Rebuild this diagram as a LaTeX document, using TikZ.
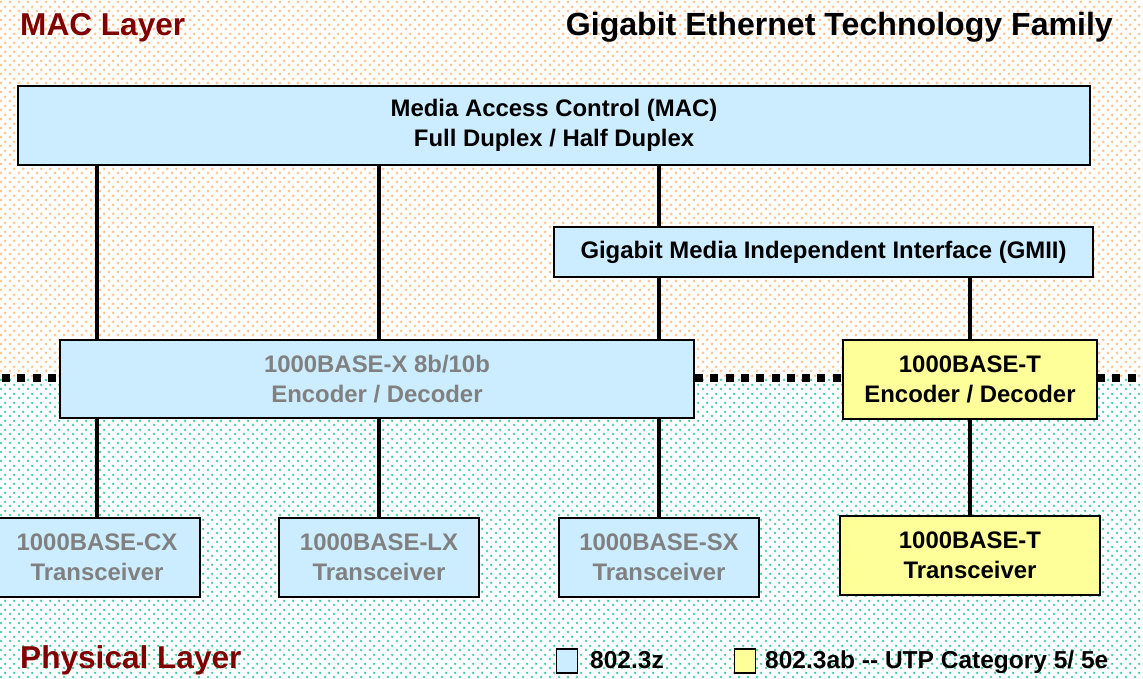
\documentclass[tikz,border=0pt]{standalone}
\usepackage{fontspec}
\setmainfont{Liberation Sans}
\usetikzlibrary{patterns}

\definecolor{macblue}{HTML}{CCECFF}
\definecolor{abyellow}{HTML}{FFFF99}
\definecolor{layerred}{HTML}{800000}
\definecolor{dimtext}{HTML}{808080}
\definecolor{orangehalo}{RGB}{255,222,188}
\definecolor{orangecore}{RGB}{255,180,115}
\definecolor{tealhalo}{RGB}{160,232,210}
\definecolor{tealcore}{RGB}{25,192,145}

% staggered soft dots for the two layer backgrounds
\pgfdeclarepatterninherentlycolored{orangedots}{\pgfpointorigin}{\pgfqpoint{9pt}{9pt}}{\pgfqpoint{9pt}{9pt}}{%
  \pgfsetfillcolor{orangehalo}%
  \pgfpathcircle{\pgfqpoint{2.25pt}{2.25pt}}{1.9pt}%
  \pgfpathcircle{\pgfqpoint{6.75pt}{6.75pt}}{1.9pt}%
  \pgfusepath{fill}%
  \pgfsetfillcolor{orangecore}%
  \pgfpathcircle{\pgfqpoint{2.25pt}{2.25pt}}{1.0pt}%
  \pgfpathcircle{\pgfqpoint{6.75pt}{6.75pt}}{1.0pt}%
  \pgfusepath{fill}}
\pgfdeclarepatterninherentlycolored{tealdots}{\pgfpointorigin}{\pgfqpoint{9pt}{9pt}}{\pgfqpoint{9pt}{9pt}}{%
  \pgfsetfillcolor{tealhalo}%
  \pgfpathcircle{\pgfqpoint{2.25pt}{2.25pt}}{1.7pt}%
  \pgfpathcircle{\pgfqpoint{6.75pt}{6.75pt}}{1.7pt}%
  \pgfusepath{fill}%
  \pgfsetfillcolor{tealcore}%
  \pgfpathcircle{\pgfqpoint{2.25pt}{2.25pt}}{1.0pt}%
  \pgfpathcircle{\pgfqpoint{6.75pt}{6.75pt}}{1.0pt}%
  \pgfusepath{fill}}

\newcommand\boxfont{\fontsize{23.9}{29.5}\selectfont\bfseries}
\newcommand\keyfont{\fontsize{24.5}{29.5}\selectfont\bfseries}
\newcommand\titlefont{\fontsize{31.6}{36}\selectfont\bfseries}
\newcommand\familyfont{\fontsize{32.1}{36}\selectfont\bfseries}

\begin{document}
\begin{tikzpicture}[x=1pt,y=-1pt,
  box/.style={draw=black, line width=2pt, inner sep=0pt, align=center, font=\boxfont},
  zbox/.style={box, fill=macblue},
  abbox/.style={box, fill=abyellow},
  link/.style={line width=3.5pt},
  layerline/.style={line width=8pt, dash pattern=on 8pt off 7.3pt},
  layer/.style={text=layerred, font=\titlefont, inner sep=0pt},
  keybox/.style={draw=black, line width=1.8pt, minimum width=21pt, minimum height=24pt, inner sep=0pt},
  keytext/.style={font=\keyfont, inner sep=0pt, anchor=base west}]

\useasboundingbox (0,0) rectangle (1143,679);

% layer backgrounds
\fill[white] (0,0) rectangle (1143,679);
\fill[pattern=orangedots] (0,0) rectangle (1143,378);
\fill[pattern=tealdots] (0,378) rectangle (1143,679);

% boundary between MAC and physical layer
\draw[layerline] (2,377.5) -- (62,377.5);
\draw[layerline] (695,377.5) -- (845,377.5);
\draw[layerline] (1097,377.5) -- (1143,377.5);

% titles
\node[layer, anchor=base west] (maclayer) at (20,36) {MAC Layer};
\node[font=\familyfont, inner sep=0pt, anchor=base east] (family) at (1113,36) {Gigabit Ethernet Technology Family};
\node[layer, anchor=base west] (phylayer) at (20,668) {Physical Layer};

% boxes
\node[zbox, minimum width=1072pt, minimum height=79pt] (mac) at (554,125.5)
  {Media Access Control (MAC)\\Full Duplex / Half Duplex};
\node[zbox, minimum width=539pt, minimum height=50pt] (gmii) at (823.5,252)
  {Gigabit Media Independent Interface (GMII)};
\node[zbox, text=dimtext, minimum width=634pt, minimum height=78pt] (bx) at (377,379)
  {1000BASE-X 8b/10b\\Encoder / Decoder};
\node[abbox, minimum width=254pt, minimum height=79pt] (tenc) at (970,379.5)
  {1000BASE-T\\Encoder / Decoder};
\node[zbox, text=dimtext, minimum width=206pt, minimum height=79pt] (cx) at (97,557.5)
  {1000BASE-CX\\Transceiver};
\node[zbox, text=dimtext, minimum width=200pt, minimum height=79pt] (lx) at (379,557.5)
  {1000BASE-LX\\Transceiver};
\node[zbox, text=dimtext, minimum width=200pt, minimum height=79pt] (sx) at (659,557.5)
  {1000BASE-SX\\Transceiver};
\node[abbox, minimum width=260pt, minimum height=79pt] (tt) at (970,555.5)
  {1000BASE-T\\Transceiver};

% connectors
\draw[link] (mac.south -| cx.north) -- (bx.north -| cx.north);
\draw[link] (bx.south -| cx.north) -- (cx.north);
\draw[link] (mac.south -| lx.north) -- (bx.north -| lx.north);
\draw[link] (bx.south -| lx.north) -- (lx.north);
\draw[link] (mac.south -| sx.north) -- (gmii.north -| sx.north);
\draw[link] (gmii.south -| sx.north) -- (bx.north -| sx.north);
\draw[link] (bx.south -| sx.north) -- (sx.north);
\draw[link] (gmii.south -| tenc.north) -- (tenc.north);
\draw[link] (tenc.south) -- (tt.north);

% legend
\node[keybox, fill=macblue] (keyz) at (567,661) {};
\node[keytext] (keyztext) at (590,668) {802.3z};
\node[keybox, fill=abyellow] (keyab) at (745,661) {};
\node[keytext] (keyabtext) at (765,668) {802.3ab -{}- UTP Category 5/ 5e};

\end{tikzpicture}
\end{document}
